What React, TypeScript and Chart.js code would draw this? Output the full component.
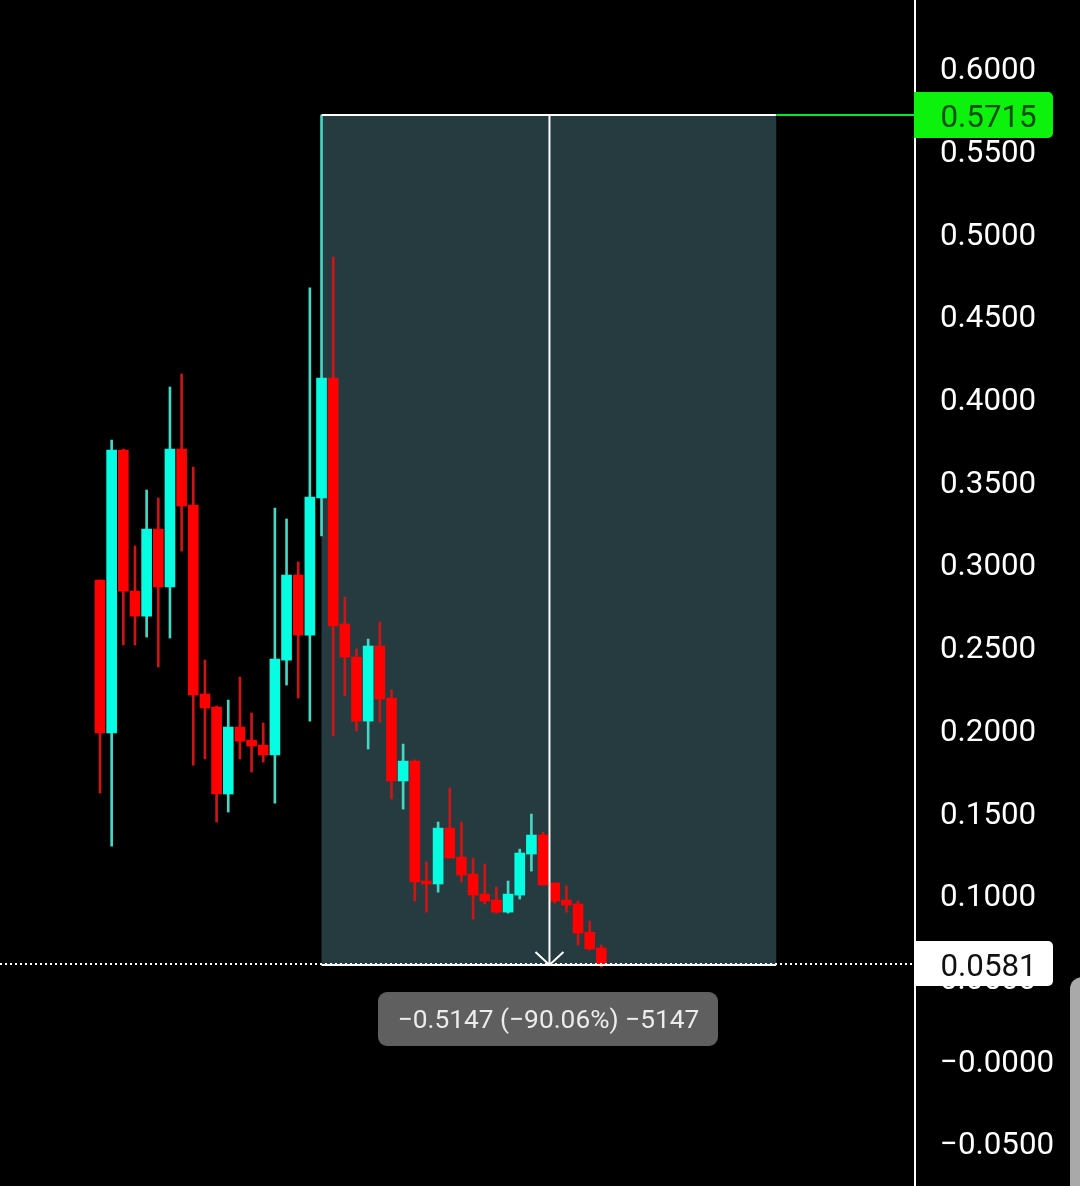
import React, { useEffect, useRef } from "react";
import { Chart, registerables } from "chart.js";

Chart.register(...registerables);

const opens = [0.2904,0.1979,0.3690,0.2837,0.2686,0.3212,0.2862,0.3696,0.3357,0.2215,0.2136,0.1610,0.2015,0.1936,0.1906,0.1846,0.2420,0.2934,0.2571,0.3400,0.4125,0.2638,0.2438,0.2051,0.2505,0.2190,0.1689,0.1809,0.1084,0.1066,0.1404,0.1229,0.1126,0.1005,0.0969,0.0896,0.0999,0.1247,0.1362,0.1072,0.0969,0.0945,0.0775,0.0679];
const closes = [0.1979,0.3690,0.2837,0.2686,0.3212,0.2862,0.3696,0.3351,0.2209,0.2130,0.1610,0.2015,0.1930,0.1900,0.1846,0.2426,0.2934,0.2571,0.3406,0.4125,0.2626,0.2438,0.2051,0.2505,0.2184,0.1689,0.1809,0.1078,0.1066,0.1404,0.1223,0.1120,0.0999,0.0963,0.0896,0.1005,0.1253,0.1362,0.1060,0.0963,0.0939,0.0769,0.0673,0.0581];
const highs = [0.2904,0.3750,0.3696,0.3110,0.3448,0.3400,0.4071,0.4150,0.3587,0.2420,0.2142,0.2178,0.2317,0.2100,0.2039,0.3339,0.3273,0.3013,0.4670,0.5715,0.4857,0.2801,0.2487,0.2547,0.2650,0.2239,0.1912,0.1816,0.1199,0.1441,0.1646,0.1441,0.1223,0.1187,0.1048,0.1084,0.1277,0.1489,0.1380,0.1072,0.1054,0.0963,0.0842,0.0697];
const lows = [0.1616,0.1295,0.2511,0.2511,0.2559,0.2378,0.2553,0.3079,0.1785,0.1822,0.1441,0.1501,0.1822,0.1743,0.1803,0.1555,0.2269,0.2190,0.2051,0.3170,0.1961,0.2203,0.1991,0.1882,0.2045,0.1580,0.1519,0.0963,0.0896,0.1017,0.1223,0.1078,0.0854,0.0945,0.0890,0.0890,0.0975,0.1144,0.1060,0.0951,0.0896,0.0697,0.0667,0.0564];

const tickValues = [0.6,0.55,0.5,0.45,0.4,0.35,0.3,0.25,0.2,0.15,0.1,0.05,0,-0.05];
const tickLabels = ["0.6000","0.5500","0.5000","0.4500","0.4000","0.3500","0.3000","0.2500","0.2000","0.1500","0.1000","0.0500","\u22120.0000","\u22120.0500"];

const lastPrice = 0.0581;
const measureTop = 0.5715;
const measureStartIndex = 19;
const measureEndIndex = 58;
const measureMidIndex = 38.55;
const measureLabel = "\u22120.5147 (\u221290.06%) \u22125147";

const UP = "#06fde2";
const DOWN = "#ff0000";
const UP_WICK = "#45d6c4";
const DOWN_WICK = "#cc1616";
const ZONE = "#253b3f";
const FONT = "31.3px Roboto";

const overlay = {
  id: "overlay",
  beforeDatasetsDraw(chart: any) {
    const { ctx, scales } = chart;
    const x0 = scales.x.getPixelForValue(measureStartIndex);
    const x1 = scales.x.getPixelForValue(measureEndIndex);
    const yT = scales.y.getPixelForValue(measureTop);
    const yB = scales.y.getPixelForValue(lastPrice);
    ctx.save();
    ctx.fillStyle = ZONE;
    ctx.fillRect(x0, yT, x1 - x0, yB - yT);
    ctx.restore();
  },
  afterDraw(chart: any) {
    const { ctx, scales, chartArea } = chart;
    const x0 = scales.x.getPixelForValue(measureStartIndex);
    const x1 = scales.x.getPixelForValue(measureEndIndex);
    const xm = scales.x.getPixelForValue(measureMidIndex);
    const yT = Math.round(scales.y.getPixelForValue(measureTop));
    const yB = Math.round(scales.y.getPixelForValue(lastPrice));
    const axisX = chartArea.right;
    ctx.save();

    // measure box edges
    ctx.strokeStyle = "#ffffff";
    ctx.lineWidth = 2;
    ctx.beginPath();
    ctx.moveTo(x0, yT);
    ctx.lineTo(x1, yT);
    ctx.moveTo(x0, yB + 1);
    ctx.lineTo(x1, yB + 1);
    ctx.moveTo(xm, yT);
    ctx.lineTo(xm, yB);
    ctx.moveTo(xm - 14, yB - 12);
    ctx.lineTo(xm, yB + 1);
    ctx.lineTo(xm + 14, yB - 12);
    ctx.stroke();

    // green price line
    ctx.strokeStyle = "#00e632";
    ctx.beginPath();
    ctx.moveTo(x1, yT);
    ctx.lineTo(axisX, yT);
    ctx.stroke();

    // dotted last-price line
    ctx.strokeStyle = "#ffffff";
    ctx.setLineDash([2, 3]);
    ctx.beginPath();
    ctx.moveTo(0, yB);
    ctx.lineTo(axisX, yB);
    ctx.stroke();
    ctx.setLineDash([]);

    // price tags
    ctx.font = FONT;
    ctx.textAlign = "left";
    ctx.textBaseline = "middle";
    ctx.fillStyle = "#0df20d";
    ctx.beginPath();
    ctx.roundRect(axisX - 1, yT - 23, 139, 46, [0, 5, 5, 0]);
    ctx.fill();
    ctx.fillStyle = "#0a4d0a";
    ctx.fillText(measureTop.toFixed(4), axisX + 25.5, yT + 4);

    ctx.fillStyle = "#ffffff";
    ctx.beginPath();
    ctx.roundRect(axisX + 1, yB - 23, 137, 45, [0, 5, 5, 0]);
    ctx.fill();
    ctx.fillStyle = "#111111";
    ctx.fillText(lastPrice.toFixed(4), axisX + 25.5, yB + 4);

    // measure readout
    ctx.fillStyle = "#5f5f5f";
    ctx.beginPath();
    ctx.roundRect(378, yB + 28, 340, 54, 9);
    ctx.fill();
    ctx.fillStyle = "#ececec";
    ctx.font = "26.3px Roboto";
    ctx.textAlign = "center";
    ctx.fillText(measureLabel, xm - 1, yB + 57);

    // side handle
    ctx.fillStyle = "#a9a9a9";
    ctx.beginPath();
    ctx.roundRect(1070, 977, 30, 230, [12, 0, 0, 0]);
    ctx.fill();
    ctx.restore();
  },
};

export default function App() {
  const ref = useRef<HTMLCanvasElement>(null);
  useEffect(() => {
    document.body.style.margin = "0";
    document.body.style.background = "#000";
    const indices = opens.map((_, i) => i);
    const up = (i: number) => closes[i] >= opens[i];
    const chart = new Chart(ref.current!, {
      type: "bar",
      data: {
        datasets: [
          {
            label: "body",
            order: 1,
            grouped: false,
            barThickness: 10,
            borderWidth: 0,
            borderSkipped: false,
            data: indices.map((i) => ({ x: i, y: [opens[i], closes[i]] })),
            backgroundColor: indices.map((i) => (up(i) ? UP : DOWN)),
          },
          {
            label: "wick",
            order: 2,
            grouped: false,
            barThickness: 2,
            borderWidth: 0,
            borderSkipped: false,
            data: indices.map((i) => ({ x: i, y: [lows[i], highs[i]] })),
            backgroundColor: indices.map((i) => (up(i) ? UP_WICK : DOWN_WICK)),
          },
        ] as any,
      },
      options: {
        responsive: false,
        animation: false,
        devicePixelRatio: 1,
        layout: { padding: 0 },
        plugins: { legend: { display: false }, tooltip: { enabled: false } },
        scales: {
          x: {
            type: "linear",
            display: false,
            min: -8.576,
            max: 69.9,
            offset: false,
          },
          y: {
            position: "right",
            min: -0.076,
            max: 0.6411,
            grid: { display: false, drawTicks: false },
            border: { display: true, color: "#ffffff", width: 2 },
            afterFit(scale: any) {
              scale.width = 165;
              scale.paddingTop = 0;
              scale.paddingBottom = 0;
            },
            afterBuildTicks(scale: any) {
              scale.ticks = tickValues.map((value) => ({ value }));
            },
            ticks: {
              autoSkip: false,
              crossAlign: "near",
              padding: 25,
              labelOffset: 3.5,
              color: "#ffffff",
              font: { family: "Roboto", size: 31.3 },
              callback: (value: any) => {
                const i = tickValues.findIndex((t) => Math.abs(t - Number(value)) < 1e-6);
                return i >= 0 ? tickLabels[i] : "";
              },
            },
          },
        },
      } as any,
      plugins: [overlay as any],
    });
    return () => chart.destroy();
  }, []);
  return (
    <div style={{ position: "absolute", left: 0, top: 0, width: 1080, height: 1186, background: "#000", overflow: "hidden" }}>
      <canvas ref={ref} width={1080} height={1186} style={{ display: "block" }} />
    </div>
  );
}
